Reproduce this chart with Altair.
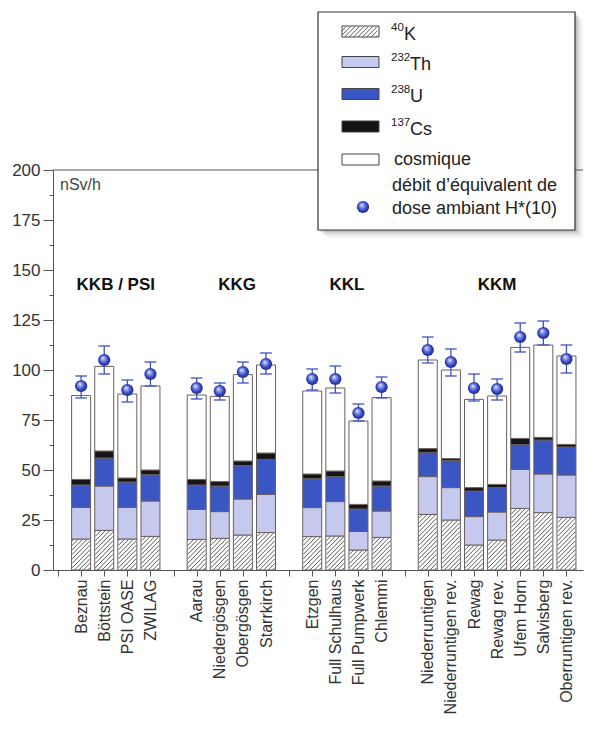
import json
import altair as alt
import pandas as pd

# ---------------- data ----------------
names = ["Beznau", "Böttstein", "PSI OASE", "ZWILAG",
         "Aarau", "Niedergösgen", "Obergösgen", "Starrkirch",
         "Etzgen", "Full Schulhaus", "Full Pumpwerk", "Chlemmi",
         "Niederruntigen", "Niederruntigen rev.", "Rewag", "Rewag rev.",
         "Ufem Horn", "Salvisberg", "Oberruntigen rev."]
slots = [1, 2, 3, 4, 6, 7, 8, 9, 11, 12, 13, 14, 16, 17, 18, 19, 20, 21, 22]
k40 = [15.5, 19.8, 15.5, 16.8, 15.3, 15.8, 17.5, 18.7, 16.7, 17.0, 10.0, 16.3,
       27.8, 25.0, 12.5, 15.0, 30.8, 28.7, 26.3]
th232 = [15.8, 22.2, 15.8, 17.7, 15.0, 13.4, 18.0, 19.1, 14.5, 17.2, 9.3, 13.2,
         18.9, 16.2, 14.2, 14.0, 19.5, 19.3, 21.2]
u238 = [11.2, 14.0, 12.7, 13.2, 12.2, 12.8, 16.7, 17.5, 14.5, 12.5, 11.2, 12.5,
        12.1, 13.5, 12.8, 12.2, 12.4, 17.0, 14.0]
cs137 = [2.8, 3.5, 2.0, 2.3, 2.8, 2.2, 2.3, 3.2, 2.3, 2.8, 2.3, 2.5,
         1.9, 1.0, 1.7, 1.6, 3.1, 1.3, 1.3]
cosmic = [41.9, 42.3, 42.0, 42.0, 42.2, 42.6, 43.2, 44.0, 41.5, 41.5, 41.7, 41.7,
          44.3, 44.3, 44.1, 44.2, 45.5, 46.2, 44.2]
hstar = [92, 105, 90, 98, 91, 89.5, 99, 103, 95.5, 95.5, 78.5, 91.5,
         110, 104, 91, 90.5, 116.5, 118.5, 105.5]
h_lo = [86, 98, 84, 92, 85.5, 85, 93.5, 98, 90, 88.5, 74.5, 86,
        103.5, 97, 84.5, 85, 109, 112.5, 98.5]
h_hi = [97, 112, 95, 104, 96, 93.5, 104, 108.5, 100.5, 102, 83, 96.5,
        116.5, 110.5, 98, 95.5, 123.5, 124.5, 112.5]
groups = ["KKB / PSI", "KKG", "KKL", "KKM"]
group_pos = [2.5, 7.75, 12.5, 19]
y_ticks = [0, 12.5, 25, 37.5, 50, 62.5, 75, 87.5, 100, 112.5, 125, 137.5,
           150, 162.5, 175, 187.5, 200]
components = ["40K", "232Th", "238U", "137Cs", "cosmique"]
comp_colors = ["#ffffff", "#c6c9ee", "#3a56c5", "#151515", "#ffffff"]
leg_sup = ["40", "232", "238", "137"]
leg_main = ["K", "Th", "U", "Cs"]

# ---------------- layout ----------------
W, H = 530, 400
XMAX = 22.5
XS = W / XMAX          # px per slot
YS = H / 200.0         # px per nSv/h
BW = 19
HB = 9.0               # hatch half width
HS = 4.5               # hatch spacing
FONT = "Liberation Sans"
STROKE = "#6a5f5c"
BLUE = "#3f52c4"
AX = "#555555"

xscale = alt.Scale(domain=[0, XMAX], nice=False, zero=False)
yscale = alt.Scale(domain=[0, 200], nice=False, zero=False)

slot_labels = [""] * 23
for s, n in zip(slots, names):
    slot_labels[s] = n
label_expr = json.dumps(slot_labels, ensure_ascii=False) + "[datum.value]"

xaxis = alt.Axis(values=list(range(0, 23)), labelExpr=label_expr, labelAngle=-90,
                 labelAlign="right", labelBaseline="middle", tickSize=6,
                 labelPadding=3, grid=False, title=None, domainColor=AX,
                 tickColor=AX, labelFont=FONT, labelFontSize=16,
                 labelColor="#333333", labelOverlap=False, labelFlush=False,
                 labelBound=False)
yaxis = alt.Axis(values=y_ticks,
                 labelExpr="datum.value % 25 === 0 ? datum.label : ''",
                 tickSize={"condition": {"test": "datum.value % 25 === 0", "value": 10},
                           "value": 4},
                 labelPadding=3, grid=False, title=None, domainColor=AX,
                 tickColor=AX, labelFont=FONT, labelFontSize=17,
                 labelColor="#333333", labelOverlap=False, labelFlush=False)


def X(f):
    return alt.X(f, scale=xscale, axis=xaxis)


def Y(f):
    return alt.Y(f, scale=yscale, axis=yaxis)


# ---------------- stacked bars ----------------
rows = []
for i in range(len(names)):
    vals = [k40[i], th232[i], u238[i], cs137[i], cosmic[i]]
    for j, c in enumerate(components):
        rows.append({"slot": slots[i], "component": c, "order": j, "value": vals[j]})
stack_df = pd.DataFrame(rows)

bars = (alt.Chart(stack_df)
        .transform_stack(stack="value", groupby=["slot"], as_=["y0", "y1"],
                         sort=[alt.SortField("order", order="ascending")])
        .mark_bar(size=BW, stroke=STROKE, strokeWidth=1)
        .encode(x=X("slot:Q"), y=Y("y0:Q"), y2="y1:Q",
                fill=alt.Fill("component:N",
                              scale=alt.Scale(domain=components, range=comp_colors),
                              legend=None)))

# ---------------- hatching of 40K ----------------
kdf = pd.DataFrame({"slot": slots, "k40": k40})
hatch = (alt.Chart(kdf)
         .transform_calculate(k="sequence(0, 26)")
         .transform_flatten(["k"])
         .transform_calculate(hp=f"datum.k40 * {YS}",
                              d=f"-{HB} + {HS} * (datum.k + 0.5)")
         .transform_calculate(v1=f"max(-{HB}, -datum.d)",
                              v2=f"min({HB}, datum.hp - datum.d - 0.6)")
         .transform_filter("datum.v1 < datum.v2")
         .transform_calculate(hx1=f"datum.slot + datum.v1 / {XS}",
                              hy1=f"(datum.v1 + datum.d) / {YS}",
                              hx2=f"datum.slot + datum.v2 / {XS}",
                              hy2=f"(datum.v2 + datum.d) / {YS}")
         .mark_rule(color="#4a4a4a", strokeWidth=0.9)
         .encode(x=X("hx1:Q"), y=Y("hy1:Q"), x2="hx2:Q", y2="hy2:Q"))

# ---------------- H*(10) points and error bars ----------------
pt_df = pd.DataFrame({"slot": slots, "h": hstar, "lo": h_lo, "hi": h_hi})
err = (alt.Chart(pt_df).mark_rule(color=BLUE, strokeWidth=1.3)
       .encode(x=X("slot:Q"), y=Y("lo:Q"), y2="hi:Q"))
CAP = 6.0
caps = (alt.Chart(pt_df)
        .transform_fold(["lo", "hi"], as_=["end", "yv"])
        .transform_calculate(xa=f"datum.slot - {CAP / XS}", xb=f"datum.slot + {CAP / XS}")
        .mark_rule(color=BLUE, strokeWidth=1.3)
        .encode(x=X("xa:Q"), x2="xb:Q", y=Y("yv:Q")))

grad = alt.RadialGradient(
    gradient="radial",
    stops=[alt.GradientStop(color="#ffffff", offset=0),
           alt.GradientStop(color="#9aa4ec", offset=0.25),
           alt.GradientStop(color="#3447c4", offset=0.65),
           alt.GradientStop(color="#1a2478", offset=1)],
    x1=0.38, y1=0.32, r1=0, x2=0.5, y2=0.5, r2=0.55)
pts = (alt.Chart(pt_df).mark_point(filled=True, size=150, fill=grad, opacity=1,
                                   strokeWidth=0)
       .encode(x=X("slot:Q"), y=Y("h:Q")))

# ---------------- annotations ----------------
g_df = pd.DataFrame({"name": groups, "pos": group_pos})
glabels = (alt.Chart(g_df)
           .mark_text(font=FONT, fontSize=17, fontWeight="bold", color="#111111")
           .encode(x=X("pos:Q"), y=alt.value(115), text="name:N"))

dummy = pd.DataFrame({"a": [0]})
unit = (alt.Chart(dummy).mark_text(font=FONT, fontSize=16, align="left",
                                   baseline="middle", color="#444444")
        .encode(x=alt.value(7), y=alt.value(15), text=alt.value("nSv/h")))
top_line = (alt.Chart(dummy).mark_rule(color=AX, strokeWidth=1)
            .encode(x=alt.value(0), x2=alt.value(W), y=alt.value(0)))

# ---------------- legend ----------------
LX0, LX1, LY0, LY1 = 265, 522, -158, 60
layers_leg = []
for off, op in [(8, 0.05), (6, 0.08), (4, 0.12), (2, 0.18)]:
    layers_leg.append(alt.Chart(dummy).mark_rect(fill="#555555", opacity=op)
                      .encode(x=alt.value(LX0 + off), x2=alt.value(LX1 + off),
                              y=alt.value(LY0 + off), y2=alt.value(LY1 + off)))
layers_leg.append(alt.Chart(dummy).mark_rect(fill="white", stroke="#333333", strokeWidth=1.2)
                  .encode(x=alt.value(LX0), x2=alt.value(LX1),
                          y=alt.value(LY0), y2=alt.value(LY1)))
row_c = [-138.5, -108, -76, -43.5, -10.5]
SX0, SX1 = 289, 326
for i, c in enumerate(components):
    layers_leg.append(alt.Chart(dummy).mark_rect(fill=comp_colors[i], stroke="#444444",
                                                 strokeWidth=1)
                      .encode(x=alt.value(SX0), x2=alt.value(SX1),
                              y=alt.value(row_c[i] - 5.5), y2=alt.value(row_c[i] + 5.5)))
# hatch in legend swatch (pixel -> data units through the shared linear scales)
sw = SX1 - SX0
yb = row_c[0] + 5.5
sh = 11
leg_hatch = (alt.Chart(dummy)
             .transform_calculate(k="sequence(0, 12)")
             .transform_flatten(["k"])
             .transform_calculate(d=f"-{sw} + {HS} * (datum.k + 0.5)")
             .transform_calculate(v1="max(0.6, -datum.d)",
                                  v2=f"min({sw - 0.6}, {sh - 0.6} - datum.d)")
             .transform_filter("datum.v1 < datum.v2")
             .transform_calculate(lx1=f"({SX0} + datum.v1) / {XS}",
                                  ly1=f"({H - yb} + datum.v1 + datum.d) / {YS}",
                                  lx2=f"({SX0} + datum.v2) / {XS}",
                                  ly2=f"({H - yb} + datum.v2 + datum.d) / {YS}")
             .mark_rule(color="#4a4a4a", strokeWidth=0.9)
             .encode(x=X("lx1:Q"), y=Y("ly1:Q"), x2="lx2:Q", y2="ly2:Q"))
layers_leg.append(leg_hatch)
for i in range(4):
    layers_leg.append(alt.Chart(dummy).mark_text(font=FONT, fontSize=11.5, align="left",
                                                 baseline="middle", color="#222222")
                      .encode(x=alt.value(338), y=alt.value(row_c[i] - 4),
                              text=alt.value(leg_sup[i])))
    layers_leg.append(alt.Chart(dummy).mark_text(font=FONT, fontSize=18, align="left",
                                                 baseline="middle", color="#222222")
                      .encode(x=alt.value(351 if len(leg_sup[i]) == 2 else 357),
                              y=alt.value(row_c[i] + 3),
                              text=alt.value(leg_main[i])))
layers_leg.append(alt.Chart(dummy).mark_text(font=FONT, fontSize=18, align="left",
                                             baseline="middle", color="#222222")
                  .encode(x=alt.value(341), y=alt.value(row_c[4]),
                          text=alt.value("cosmique")))
layers_leg.append(alt.Chart(dummy).mark_text(font=FONT, fontSize=18, align="left",
                                             baseline="middle", color="#222222")
                  .encode(x=alt.value(339), y=alt.value(16),
                          text=alt.value("débit d’équivalent de")))
layers_leg.append(alt.Chart(dummy).mark_text(font=FONT, fontSize=18, align="left",
                                             baseline="middle", color="#222222")
                  .encode(x=alt.value(339), y=alt.value(39),
                          text=alt.value("dose ambiant H*(10)")))
layers_leg.append(alt.Chart(dummy).mark_point(filled=True, size=150, fill=grad,
                                              opacity=1, strokeWidth=0)
                  .encode(x=alt.value(310), y=alt.value(37)))

chart = (alt.layer(bars, hatch, err, caps, pts, glabels, unit, top_line, *layers_leg)
         .properties(width=W, height=H,
                     padding={"left": 45, "top": 162, "right": 6, "bottom": 151},
                     autosize=alt.AutoSizeParams(type="none"))
         .configure_view(stroke=None))

chart.save("out.html", embed_options={"renderer": "svg", "actions": False})
